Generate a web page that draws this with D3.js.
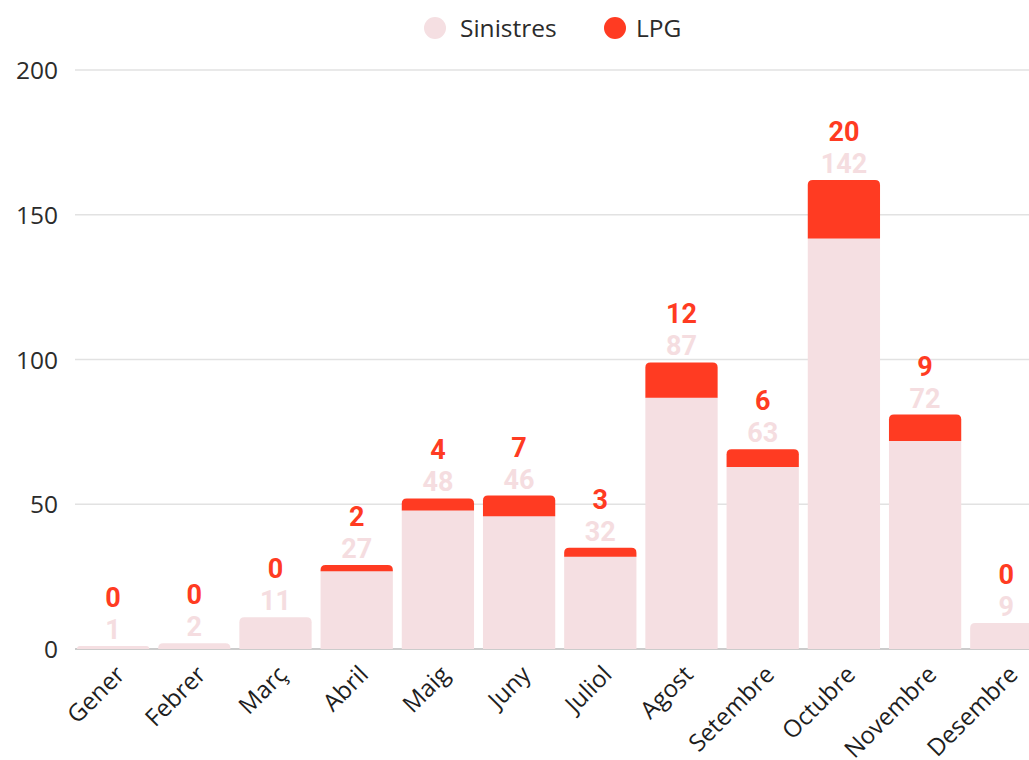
<!DOCTYPE html>
<html><head><meta charset="utf-8">
<script src="https://cdn.jsdelivr.net/npm/d3@7"></script>
<style>body{margin:0;background:#fff}svg{display:block}</style>
</head><body><svg id="c" width="1029" height="760"></svg>
<script>
const months = ["Gener","Febrer","Març","Abril","Maig","Juny","Juliol","Agost","Setembre","Octubre","Novembre","Desembre"];
const sinistres = [1,2,11,27,48,46,32,87,63,142,72,9];
const lpg = [0,0,0,2,4,7,3,12,6,20,9,0];
const yTicks = [0,50,100,150,200];
const seriesNames = ["Sinistres","LPG"];
const colors = {Sinistres:"#f5dfe2", LPG:"#ff3b22"};

const svg = d3.select("#c");
const x = d3.scaleBand().domain(months).range([72.5,1046.9]).paddingInner(0.11).paddingOuter(0.055);
const y = d3.scaleLinear().domain([0,200]).range([649,70]);
const labelFont = "'Open Sans', sans-serif";

// gridlines
svg.append("g").selectAll("line").data(yTicks).join("line")
  .attr("x1",75).attr("x2",1029).attr("y1",d=>y(d)).attr("y2",d=>y(d))
  .attr("stroke",d=>d===0?"#bbbbbb":"#e2e2e2").attr("stroke-width",1.5);

// y tick labels
const yAxis = d3.axisLeft(y).tickValues(yTicks).tickSize(0).tickPadding(0);
const ga = svg.append("g").attr("transform","translate(58,0)").call(yAxis);
ga.select(".domain").remove();
ga.selectAll("text").attr("font-family",labelFont).attr("font-size",24.5).attr("fill","#2b2b2b").attr("dy","0.35em");

const data = months.map((m,i)=>({m, s:sinistres[i], l:lpg[i]}));

function topRounded(x0,y0,w,h,r){
  r = Math.min(r,h,w/2);
  return `M${x0},${y0+h}V${y0+r}Q${x0},${y0} ${x0+r},${y0}H${x0+w-r}Q${x0+w},${y0} ${x0+w},${y0+r}V${y0+h}Z`;
}

const bars = svg.append("g");
data.forEach(d=>{
  const bx = x(d.m), bw = x.bandwidth();
  const ys = y(d.s), yt = y(d.s+d.l);
  if(d.l>0){
    bars.append("rect").attr("x",bx).attr("y",ys).attr("width",bw).attr("height",y(0)-ys).attr("fill",colors.Sinistres);
    bars.append("path").attr("d",topRounded(bx,yt,bw,ys-yt+0.5,5)).attr("fill",colors.LPG);
  } else {
    bars.append("path").attr("d",topRounded(bx,ys,bw,y(0)-ys,5)).attr("fill",colors.Sinistres);
  }
});

// value labels
const vl = svg.append("g").attr("font-family","Roboto, sans-serif").attr("font-weight","bold").attr("font-size",27).attr("text-anchor","middle");
vl.selectAll("text.s").data(data).join("text").attr("class","s")
  .attr("x",d=>x(d.m)+x.bandwidth()/2).attr("y",d=>y(d.s+d.l)-7)
  .attr("fill","#f5dde0").text(d=>d.s);
vl.selectAll("text.l").data(data).join("text").attr("class","l")
  .attr("x",d=>x(d.m)+x.bandwidth()/2).attr("y",d=>y(d.s+d.l)-39)
  .attr("fill","#ff3b22").text(d=>d.l);

// x labels
const xAxis = d3.axisBottom(x).tickSize(0).tickPadding(0);
const gx = svg.append("g").attr("transform","translate(0,649)").call(xAxis);
gx.select(".domain").remove();
gx.selectAll("text").attr("font-family",labelFont).attr("font-size",24).attr("fill","#1e1e1e")
  .attr("text-anchor","end").attr("dy",null)
  .attr("transform","translate(13,27) rotate(-45)");

// legend
const leg = svg.append("g");
const legPos = [{n:"Sinistres",cx:435,tx:460},{n:"LPG",cx:615,tx:636}];
leg.selectAll("circle").data(legPos).join("circle").attr("cx",d=>d.cx).attr("cy",28).attr("r",11).attr("fill",d=>colors[d.n]);
leg.selectAll("text").data(legPos).join("text").attr("x",d=>d.tx).attr("y",37)
  .attr("font-family",labelFont).attr("font-size",24.5).attr("fill","#2b2b2b").text(d=>d.n);
</script></body></html>
